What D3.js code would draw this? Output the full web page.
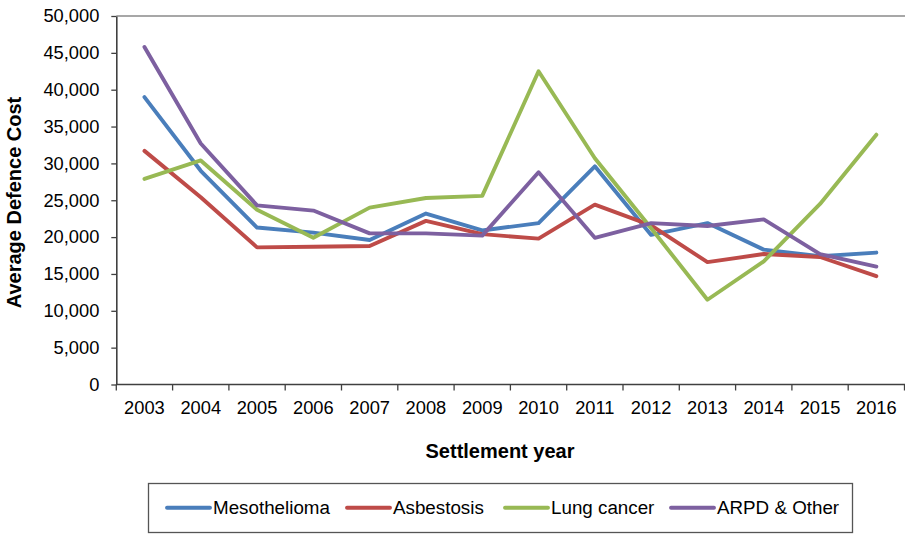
<!DOCTYPE html>
<html>
<head>
<meta charset="utf-8">
<script src="https://cdn.jsdelivr.net/npm/d3@7/dist/d3.min.js"></script>
<style>
  html, body { margin: 0; padding: 0; background: #fff; }
  svg { display: block; font-family: "Liberation Sans", Arial, sans-serif; }
</style>
</head>
<body>
<svg id="chart" width="905" height="534"></svg>
<script>
// Settlement years on the x axis
const years = ["2003","2004","2005","2006","2007","2008","2009","2010","2011","2012","2013","2014","2015","2016"];

// Average defence cost per disease type
const mesothelioma = [39000, 29000, 21300, 20600, 19600, 23200, 20900, 21900, 29600, 20300, 21900, 18300, 17400, 17900];
const asbestosis   = [31700, 25400, 18600, 18700, 18800, 22200, 20400, 19800, 24400, 21600, 16600, 17700, 17300, 14700];
const lungCancer   = [27900, 30400, 23700, 19900, 24000, 25300, 25600, 42500, 30700, 21200, 11500, 16700, 24500, 33900];
const arpdOther    = [45800, 32700, 24300, 23600, 20500, 20500, 20200, 28800, 19900, 21900, 21500, 22400, 17700, 16000];

const seriesNames  = ["Mesothelioma", "Asbestosis", "Lung cancer", "ARPD & Other"];
const seriesValues = [mesothelioma, asbestosis, lungCancer, arpdOther];
const seriesColors = ["#4A7EBB", "#BE4B48", "#98B954", "#7D60A0"];

const yTicks = [0, 5000, 10000, 15000, 20000, 25000, 30000, 35000, 40000, 45000, 50000];

const svg = d3.select("#chart");
const plotLeft = 116.3, plotRight = 904.5, plotTop = 16, plotBottom = 384.5;

const x = d3.scaleBand().domain(years).range([plotLeft, plotRight]);
const y = d3.scaleLinear().domain([0, 50000]).range([plotBottom, plotTop]);
const fmt = d3.format(",");

// top border of the plot area
svg.append("line")
  .attr("x1", plotLeft).attr("x2", 905)
  .attr("y1", y(50000)).attr("y2", y(50000))
  .attr("stroke", "#8a8a8a").attr("stroke-width", 1.5);

// y axis
const yAxis = svg.append("g")
  .attr("transform", `translate(${plotLeft},0)`)
  .call(d3.axisLeft(y).tickValues(yTicks).tickFormat(fmt).tickSize(5).tickPadding(12).tickSizeOuter(0));
yAxis.select(".domain").attr("stroke", "#404040").attr("stroke-width", 1.6);
yAxis.selectAll(".tick line").attr("stroke", "#404040").attr("stroke-width", 1.3);
yAxis.selectAll("text").attr("font-size", 18.3).attr("fill", "#000")
  .attr("font-family", "Liberation Sans, Arial, sans-serif");

// x axis: boundary ticks between years, labels centred on each year
const xAxis = svg.append("g").attr("transform", `translate(0,${plotBottom})`);
xAxis.append("line")
  .attr("x1", plotLeft).attr("x2", 905).attr("y1", 0).attr("y2", 0)
  .attr("stroke", "#404040").attr("stroke-width", 1.6);
const boundaries = years.map(d => x(d)).concat([plotRight]);
xAxis.selectAll("line.tk").data(boundaries).join("line")
  .attr("class", "tk")
  .attr("x1", d => d).attr("x2", d => d)
  .attr("y1", 0).attr("y2", 6)
  .attr("stroke", "#404040").attr("stroke-width", 1.3);
xAxis.selectAll("text.lbl").data(years).join("text")
  .attr("class", "lbl")
  .attr("x", d => x(d) + x.bandwidth() / 2)
  .attr("y", 29)
  .attr("text-anchor", "middle")
  .attr("font-size", 18.3)
  .attr("fill", "#000")
  .text(d => d);

// series lines
const line = d3.line()
  .x((d, i) => x(years[i]) + x.bandwidth() / 2)
  .y(d => y(d));

svg.append("g").selectAll("path")
  .data(seriesValues)
  .join("path")
  .attr("d", d => line(d))
  .attr("fill", "none")
  .attr("stroke", (d, i) => seriesColors[i])
  .attr("stroke-width", 3.9)
  .attr("stroke-linejoin", "round")
  .attr("stroke-linecap", "round");

// axis titles
svg.append("text")
  .attr("transform", `translate(21,202.5) rotate(-90)`)
  .attr("text-anchor", "middle")
  .attr("font-size", 20)
  .attr("font-weight", "bold")
  .attr("fill", "#000")
  .text("Average Defence Cost");

svg.append("text")
  .attr("x", 500).attr("y", 458)
  .attr("text-anchor", "middle")
  .attr("font-size", 20)
  .attr("font-weight", "bold")
  .attr("fill", "#000")
  .text("Settlement year");

// legend
const legend = svg.append("g");
legend.append("rect")
  .attr("x", 148.5).attr("y", 483.5)
  .attr("width", 704).attr("height", 49)
  .attr("fill", "#fff")
  .attr("stroke", "#555").attr("stroke-width", 1.3);

const itemX = [167, 347, 505, 671];
seriesNames.forEach((name, i) => {
  const g = legend.append("g").attr("transform", `translate(${itemX[i]},0)`);
  g.append("line")
    .attr("x1", 0).attr("x2", 43)
    .attr("y1", 507.7).attr("y2", 507.7)
    .attr("stroke", seriesColors[i]).attr("stroke-width", 3.9)
    .attr("stroke-linecap", "round");
  g.append("text")
    .attr("x", 46).attr("y", 514)
    .attr("font-size", 18.8)
    .attr("fill", "#000")
    .text(name);
});
</script>
</body>
</html>
